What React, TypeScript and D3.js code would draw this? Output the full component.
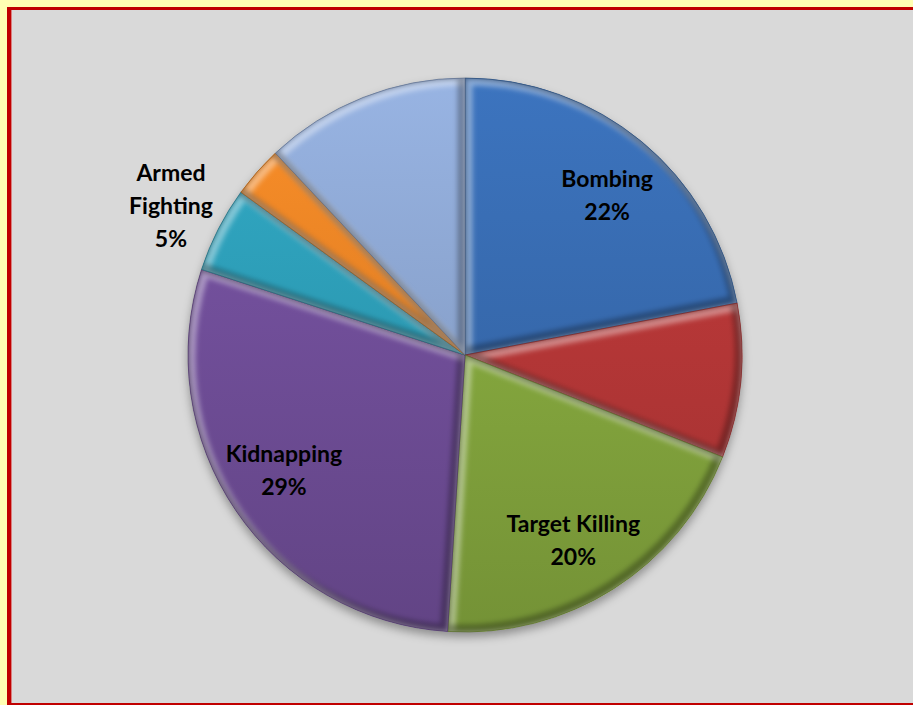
import React from 'react';
import * as d3 from 'd3';

const categories = ['Bombing', 'Firing', 'Target Killing', 'Kidnapping', 'Armed Fighting', 'Arson', 'Others'];
const values = [22, 9, 20, 29, 5, 3, 12];
const showLabel = [true, false, true, true, true, false, false];
const labelLines = [['Bombing'], [], ['Target Killing'], ['Kidnapping'], ['Armed', 'Fighting'], [], []];
const colors = ['#3a70b8', '#c03a3a', '#8db242', '#7753a2', '#2fa5c0', '#f38a27', '#93aedb'];

const W = 913;
const H = 705;
const cx = 465;
const cy = 355;
const R = 277;
const labelAngleShift = 0.035;

export default function App() {
  const total = d3.sum(values);
  const pie = d3.pie<number>().sort(null).value((d) => d).startAngle(0).endAngle(2 * Math.PI);
  const arcs = pie(values);
  const arc = d3.arc<d3.PieArcDatum<number>>().innerRadius(0).outerRadius(R);
  const labelArc = d3.arc<d3.PieArcDatum<number>>().innerRadius(214).outerRadius(214);
  const outerLabelArc = d3.arc<d3.PieArcDatum<number>>().innerRadius(330).outerRadius(330);

  return (
    <svg width={W} height={H} style={{ position: 'absolute', left: 0, top: 0 }}>
      <defs>
        {colors.map((c, i) => (
          <linearGradient key={i} id={`g${i}`} gradientUnits="userSpaceOnUse" x1={0} y1={-R} x2={0} y2={R}>
            <stop offset="0" stopColor={d3.color(c)!.brighter(0.1).formatHex()} />
            <stop offset="1" stopColor={d3.color(c)!.darker(0.55).formatHex()} />
          </linearGradient>
        ))}
        {arcs.map((a, i) => (
          <clipPath key={i} id={`c${i}`}>
            <path d={arc(a)!} />
          </clipPath>
        ))}
        <filter id="blur" x="-20%" y="-20%" width="140%" height="140%">
          <feGaussianBlur stdDeviation="2.5" />
        </filter>
        <filter id="shadow" x="-20%" y="-20%" width="140%" height="140%">
          <feDropShadow dx="0" dy="5" stdDeviation="5" floodColor="#000" floodOpacity="0.35" />
        </filter>
      </defs>
      <rect x={0} y={0} width={W} height={H} fill="#ffffb3" />
      <rect x={7} y={7} width={W + 20} height={H} fill="#c00000" />
      <rect x={11} y={10} width={W + 20} height={693} fill="#d9d9d9" />
      <rect x={11} y={10} width={1} height={693} fill="#d98080" />
      <g transform={`translate(${cx},${cy})`}>
        <g filter="url(#shadow)">
          {arcs.map((a, i) => (
            <path key={`b${i}`} d={arc(a)!} fill={colors[i]} />
          ))}
        </g>
        {arcs.map((a, i) => (
          <g key={`q${i}`}>
            <g clipPath={`url(#c${i})`}>
              <rect x={-R - 10} y={-R - 10} width={2 * R + 20} height={2 * R + 20} fill={`url(#g${i})`} />
              <path d={arc(a)!} fill="none" stroke="#ffffff" strokeOpacity={0.4} strokeWidth={9} transform="translate(3,3)" filter="url(#blur)" />
              <path d={arc(a)!} fill="none" stroke="#000000" strokeOpacity={0.3} strokeWidth={9} transform="translate(-3,-3)" filter="url(#blur)" />
            </g>
            <path d={arc(a)!} fill="none" stroke={d3.color(colors[i])!.darker(1.5).formatHex()} strokeOpacity={0.6} strokeWidth={1} />
          </g>
        ))}
      </g>
      {arcs.map((a, i) => {
        if (!showLabel[i]) return null;
        const outside = values[i] < 8;
        const shifted = { ...a, startAngle: a.startAngle + labelAngleShift, endAngle: a.endAngle + labelAngleShift };
        const [lx, ly] = outside ? outerLabelArc.centroid(a) : labelArc.centroid(shifted);
        const lines = [...labelLines[i], `${Math.round((values[i] / total) * 100)}%`];
        const lh = 33;
        const y0 = cy + ly - ((lines.length - 1) * lh) / 2;
        return (
          <text
            key={`t${i}`}
            x={cx + lx}
            y={y0}
            textAnchor="middle"
            dominantBaseline="central"
            fontFamily="Lato, 'Open Sans', sans-serif"
            fontWeight="bold"
            fontSize={23}
            fill="#000"
          >
            {lines.map((l, j) => (
              <tspan key={j} x={cx + lx} y={y0 + j * lh}>
                {l}
              </tspan>
            ))}
          </text>
        );
      })}
    </svg>
  );
}
